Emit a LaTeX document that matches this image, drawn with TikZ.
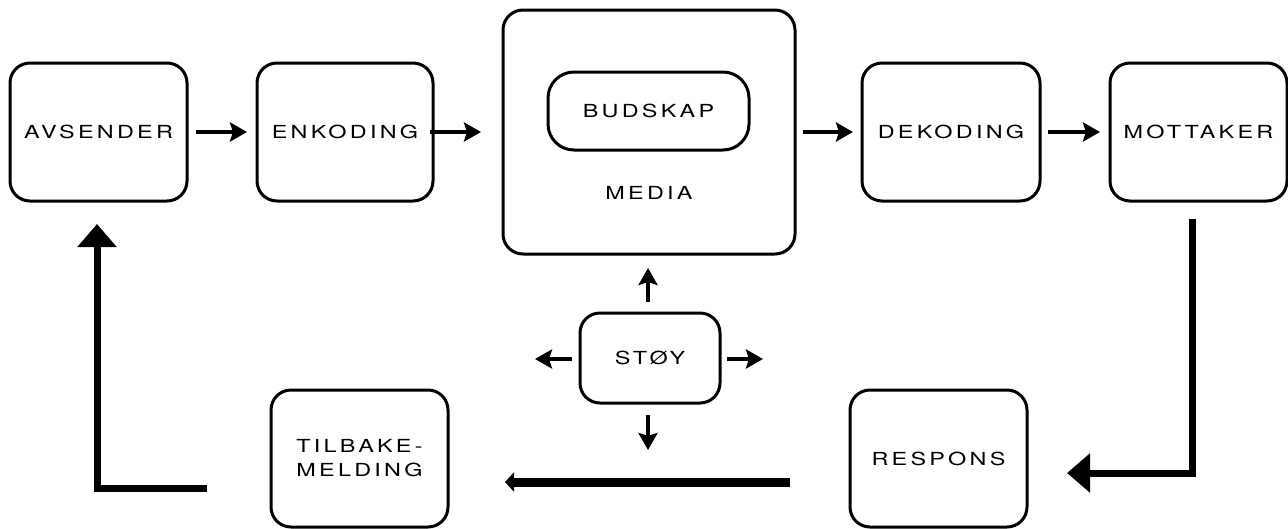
\documentclass[tikz,border=0pt]{standalone}
\usepackage{fontspec}
\setmainfont{TeX Gyre Heros}[FakeStretch=1.3, LetterSpace=18]
\usetikzlibrary{arrows.meta}
\begin{document}
\begin{tikzpicture}[x=1pt,y=-1pt,
  box/.style={draw, line width=3pt, rounded corners=20pt, minimum width=177pt,
    minimum height=138pt, outer sep=0pt, inner sep=0pt, align=center,
    font=\fontsize{18}{24}\selectfont},
  lbl/.style={inner sep=0pt, font=\fontsize{18}{24}\selectfont},
  thinarrow/.style={line width=4pt, -{Stealth[length=17pt,width=19pt,inset=3pt]}},
  bigarrow/.style={line width=7pt, miter limit=10, -{Triangle[length=23pt,width=38pt]}},
  flatarrow/.style={line width=9pt, -{Triangle[length=9pt,width=19pt]}}
]
\useasboundingbox (0,0) rectangle (1288,528);

\node[box] (av) at (98.5,132) {AVSENDER};
\node[box, minimum width=176pt] (enk) at (345,132) {ENKODING};
\node[box, minimum width=292pt, minimum height=244pt] (media) at (649,132) {};
\node[box, minimum width=201pt, minimum height=78pt, rounded corners=26pt] (bud) at (648.5,111) {BUDSKAP};
\node[lbl] (medialbl) at (649,193) {MEDIA};
\node[box, minimum width=178pt] (dek) at (951,132) {DEKODING};
\node[box] (mot) at (1198.5,132) {MOTTAKER};
\node[box, minimum width=140pt, minimum height=90pt] (stoy) at (650,358) {STØY};
\node[box, minimum height=137pt] (tilb) at (359.5,458.5) {TILBAKE-\\MELDING};
\node[box, minimum height=137pt] (resp) at (938.5,458.5) {RESPONS};

% top row arrows
\draw[thinarrow] ([xshift=9pt]av.east) -- ([xshift=-10pt]enk.west);
\draw[thinarrow] ([xshift=-3pt]enk.east) -- ([xshift=-22pt]media.west);
\draw[thinarrow] ([xshift=8pt]media.east) -- ([xshift=-9pt]dek.west);
\draw[thinarrow] ([xshift=8pt]dek.east) -- ([xshift=-10pt]mot.west);

% noise arrows
\coordinate (sn) at (648,268);
\coordinate (ss) at (648,450);
\coordinate (sw) at (535,359);
\coordinate (se) at (763,359);
\draw[thinarrow] (648,302) -- (sn);
\draw[thinarrow] (648,415) -- (ss);
\draw[thinarrow] (572,359) -- (sw);
\draw[thinarrow] (727,359) -- (se);

% feedback loop
\draw[bigarrow] ([xshift=-6.5pt,yshift=-18pt]mot.south) |- ([xshift=40pt,yshift=-14.5pt]resp.east);
\draw[flatarrow] ([xshift=-60pt,yshift=-23.5pt]resp.west) -- ([xshift=57pt,yshift=-23.5pt]tilb.east);
\draw[bigarrow] ([xshift=-64pt,yshift=-29.5pt]tilb.west) -| ([xshift=-1.5pt,yshift=-23pt]av.south);
\end{tikzpicture}
\end{document}
